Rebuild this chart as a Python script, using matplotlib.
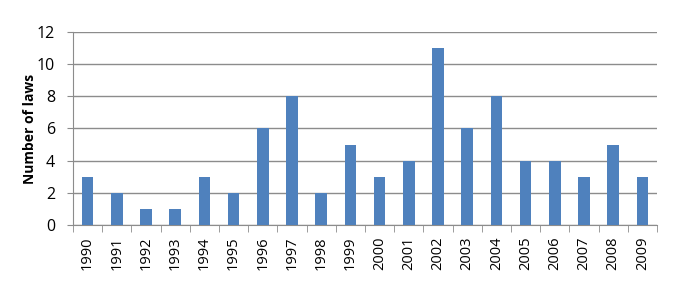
import matplotlib
matplotlib.use('Agg')
from matplotlib import pyplot as plt
import numpy as np

years = [str(y) for y in range(1990, 2010)]
laws = [3, 2, 1, 1, 3, 2, 6, 8, 2, 5, 3, 4, 11, 6, 8, 4, 4, 3, 5, 3]

plt.rcParams['font.family'] = ['Open Sans', 'DejaVu Sans']

fig = plt.figure(figsize=(6.78, 2.90), dpi=100)
ax = fig.add_axes([0.1077, 0.2241, 0.8613, 0.6656])

x = np.arange(len(years))
ax.bar(x, laws, width=0.4, color='#4f81bd', zorder=3)

# grid + axes look
ax.set_ylim(0, 12)
ax.set_yticks(range(0, 13, 2))
ax.set_xlim(-0.5, len(years) - 0.5)
ax.yaxis.grid(True, color='#8c8c8c', linewidth=1, zorder=0)
for s in ['top', 'right']:
    ax.spines[s].set_visible(False)
for s in ['left', 'bottom']:
    ax.spines[s].set_color('#8c8c8c')

# year labels centred under bars, tick marks between categories
ax.set_xticks(x)
ax.set_xticklabels(years, rotation=90, fontsize=10.5)
ax.tick_params(axis='x', which='major', length=0, pad=8)
ax.set_xticks(np.arange(-0.5, len(years)), minor=True)
ax.tick_params(axis='x', which='minor', length=5, color='#8c8c8c', direction='out')
ax.tick_params(axis='y', length=4, color='#8c8c8c', labelsize=11.5, pad=9)

ax.set_ylabel('Number of laws', fontsize=10, fontweight='bold', labelpad=0)

fig.savefig('out.png', dpi=100)
